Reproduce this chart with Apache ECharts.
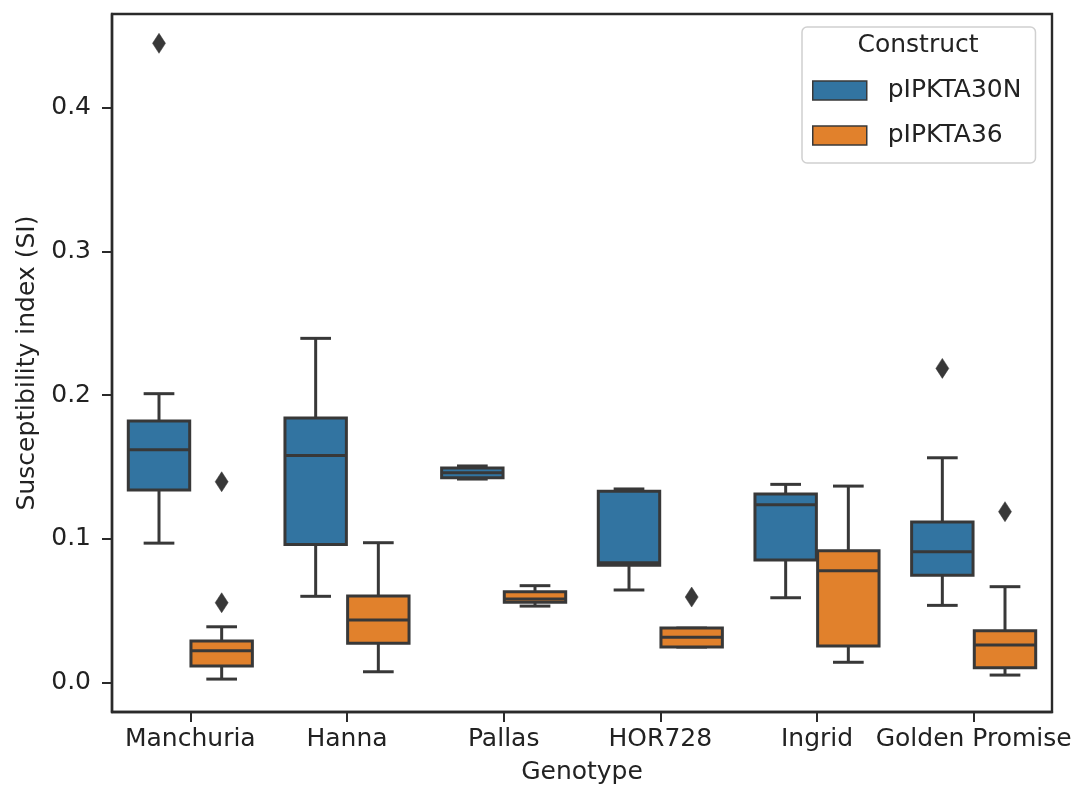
<!DOCTYPE html>
<html><head><meta charset="utf-8">
<script src="https://cdn.jsdelivr.net/npm/echarts@6/dist/echarts.min.js"></script>
<style>html,body{margin:0;padding:0;background:#fff}#c{width:1076px;height:792px}</style>
</head><body><div id="c"></div>
<script>
// ---- data ----
const categories = ['Manchuria', 'Hanna', 'Pallas', 'HOR728', 'Ingrid', 'Golden Promise'];
const constructs = ['pIPKTA30N', 'pIPKTA36'];
// [min, Q1, median, Q3, max] (whisker ends and quartiles)
const boxes30N = [
  [0.097, 0.134, 0.162, 0.182, 0.201],
  [0.060, 0.096, 0.158, 0.184, 0.2395],
  [0.1416, 0.1425, 0.146, 0.1492, 0.1507],
  [0.0644, 0.0816, 0.0834, 0.1331, 0.1347],
  [0.059, 0.0852, 0.1237, 0.1312, 0.1379],
  [0.0537, 0.0746, 0.091, 0.1117, 0.1564]
];
const boxes36 = [
  [0.0024, 0.0115, 0.0221, 0.0289, 0.0388],
  [0.0075, 0.0273, 0.0435, 0.0602, 0.0973],
  [0.0532, 0.0558, 0.0581, 0.0632, 0.0674],
  [0.0247, 0.0247, 0.0315, 0.0379, 0.0379],
  [0.0141, 0.0254, 0.0778, 0.0917, 0.1367],
  [0.0052, 0.0103, 0.0261, 0.036, 0.0667]
];
// outliers: [category index, value]
const outliers30N = [[0, 0.4448], [5, 0.2186]];
const outliers36 = [[0, 0.1397], [0, 0.0555], [3, 0.0595], [5, 0.1189]];
const yTicks = [0.0, 0.1, 0.2, 0.3, 0.4];

// ---- style ----
const colors = ['#3274a1', '#e1812c'];
const lineColor = '#383838';
const textColor = '#222222';
const FONT = 'DejaVu Sans';
const FS = 25;
const LW = 3;
const HUE_OFFSET = 0.2;   // in band units
const BOX_FRAC = 0.392;   // box width in band units

function boxRenderer(offset, fill) {
  return function (params, api) {
    const i = api.value(0);
    const band = api.size([1, 0])[0];
    const cx = api.coord([i, 0])[0] + offset * band;
    const w = band * BOX_FRAC;
    const cap = w / 4;
    const y = k => api.coord([i, api.value(k)])[1];
    const yMin = y(1), yQ1 = y(2), yMed = y(3), yQ3 = y(4), yMax = y(5);
    const ls = { stroke: lineColor, lineWidth: LW };
    return {
      type: 'group',
      children: [
        { type: 'line', shape: { x1: cx, y1: yQ1, x2: cx, y2: yMin }, style: ls },
        { type: 'line', shape: { x1: cx, y1: yQ3, x2: cx, y2: yMax }, style: ls },
        { type: 'line', shape: { x1: cx - cap, y1: yMin, x2: cx + cap, y2: yMin }, style: ls },
        { type: 'line', shape: { x1: cx - cap, y1: yMax, x2: cx + cap, y2: yMax }, style: ls },
        { type: 'rect', shape: { x: cx - w / 2, y: yQ3, width: w, height: Math.max(yQ1 - yQ3, 0.5) },
          style: { fill: fill, stroke: lineColor, lineWidth: LW } },
        { type: 'line', shape: { x1: cx - w / 2, y1: yMed, x2: cx + w / 2, y2: yMed }, style: ls }
      ]
    };
  };
}
function outlierRenderer(offset) {
  return function (params, api) {
    const i = api.value(0);
    const band = api.size([1, 0])[0];
    const p = api.coord([i, api.value(1)]);
    const cx = p[0] + offset * band, cy = p[1];
    const hw = 6.5, hh = 10;
    return {
      type: 'polygon',
      shape: { points: [[cx, cy - hh], [cx + hw, cy], [cx, cy + hh], [cx - hw, cy]] },
      style: { fill: lineColor, stroke: lineColor, lineWidth: 0.5 }
    };
  };
}

const chart = echarts.init(document.getElementById('c'));
chart.setOption({
  animation: false,
  backgroundColor: '#ffffff',
  textStyle: { fontFamily: FONT },
  grid: { left: 112, right: 24, top: 14, bottom: 80, show: true, borderColor: '#2a2a2a', borderWidth: 2.4, containLabel: false },
  xAxis: {
    type: 'category',
    data: categories,
    name: 'Genotype',
    nameLocation: 'middle',
    nameGap: 48,
    nameTextStyle: { fontSize: FS, color: textColor, fontFamily: FONT },
    axisLine: { show: true, onZero: false, lineStyle: { color: '#2a2a2a', width: 2.4 } },
    axisTick: { show: true, alignWithLabel: true, length: 10, lineStyle: { color: '#2a2a2a', width: 2 } },
    axisLabel: { interval: 0, fontSize: FS, color: textColor, margin: 15, fontFamily: FONT },
    splitLine: { show: false }
  },
  yAxis: {
    type: 'value',
    min: -0.0205,
    max: 0.4652,
    name: 'Susceptibility index (SI)',
    nameLocation: 'middle',
    nameGap: 71,
    nameTextStyle: { fontSize: FS, color: textColor, fontFamily: FONT },
    axisLine: { show: true, lineStyle: { color: '#2a2a2a', width: 2.4 } },
    axisTick: { show: true, length: 10, customValues: yTicks, lineStyle: { color: '#2a2a2a', width: 2 } },
    axisLabel: { fontSize: FS, color: textColor, margin: 21, fontFamily: FONT, customValues: yTicks,
      formatter: v => v.toFixed(1) },
    splitLine: { show: false }
  },
  legend: {
    orient: 'vertical',
    left: 802,
    top: 27,
    selectedMode: false,
    itemWidth: 54,
    itemHeight: 19,
    itemGap: 20,
    padding: [51, 14, 15, 10],
    borderColor: '#d0d0d0',
    borderWidth: 1.5,
    borderRadius: 5,
    textStyle: { fontSize: FS, color: textColor, fontFamily: FONT, lineHeight: 20, padding: [0, 0, 0, 16] },
    data: constructs.map((n, k) => ({
      name: n, icon: 'rect',
      itemStyle: { color: colors[k], borderColor: lineColor, borderWidth: 1.5 }
    }))
  },
  graphic: [{
    type: 'text', left: 919.5 - 62, top: 33,
    style: { text: 'Construct', fontSize: FS, fontFamily: FONT, fill: textColor }
  }],
  series: [
    {
      name: constructs[0], type: 'custom', itemStyle: { color: colors[0] },
      renderItem: boxRenderer(-HUE_OFFSET, colors[0]),
      encode: { x: 0, y: [1, 2, 3, 4, 5] },
      data: boxes30N.map((b, i) => [i].concat(b))
    },
    {
      name: constructs[1], type: 'custom', itemStyle: { color: colors[1] },
      renderItem: boxRenderer(HUE_OFFSET, colors[1]),
      encode: { x: 0, y: [1, 2, 3, 4, 5] },
      data: boxes36.map((b, i) => [i].concat(b))
    },
    {
      name: constructs[0], type: 'custom', itemStyle: { color: colors[0] },
      renderItem: outlierRenderer(-HUE_OFFSET),
      encode: { x: 0, y: 1 },
      data: outliers30N
    },
    {
      name: constructs[1], type: 'custom', itemStyle: { color: colors[1] },
      renderItem: outlierRenderer(HUE_OFFSET),
      encode: { x: 0, y: 1 },
      data: outliers36
    }
  ]
});
</script></body></html>
